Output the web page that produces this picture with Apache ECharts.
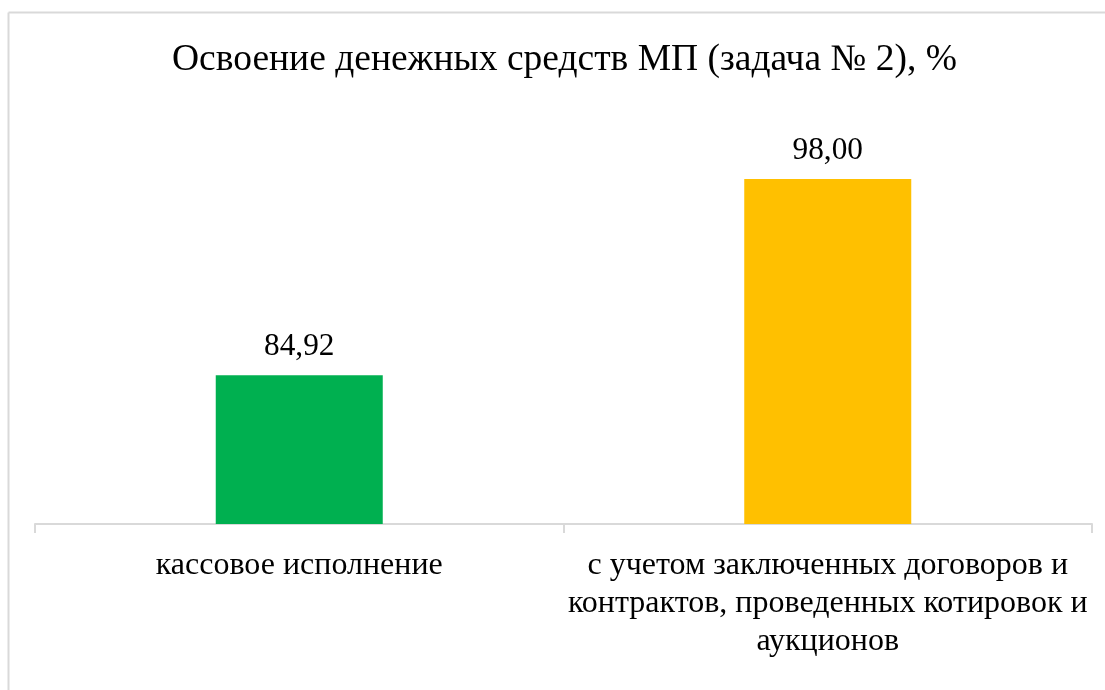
<!DOCTYPE html>
<html>
<head>
<meta charset="utf-8">
<script src="https://cdn.jsdelivr.net/npm/echarts@6/dist/echarts.min.js"></script>
<style>
html,body{margin:0;padding:0;background:#fff;}
#chart{width:1105px;height:690px;}
</style>
</head>
<body>
<div id="chart"></div>
<script>
const titleText = 'Освоение денежных средств МП (задача № 2), %';
const categories = ['кассовое исполнение', 'с учетом заключенных договоров и\nконтрактов, проведенных котировок и\nаукционов'];
const values = [84.92, 98.00];
const barColors = ['#00B050', '#FFC000'];

const chart = echarts.init(document.getElementById('chart'), null, {renderer: 'canvas'});
const serif = '"Liberation Serif", "Times New Roman", serif';
chart.setOption({
  animation: false,
  backgroundColor: '#ffffff',
  textStyle: {fontFamily: serif},
  graphic: [
    {type: 'line', shape: {x1: 8.5, y1: 12.5, x2: 1105, y2: 12.5}, style: {stroke: '#d9d9d9', lineWidth: 2}},
    {type: 'line', shape: {x1: 8.5, y1: 12.5, x2: 8.5, y2: 690}, style: {stroke: '#d9d9d9', lineWidth: 2}}
  ],
  title: {
    text: titleText,
    left: 172,
    top: 41,
    padding: 0,
    textStyle: {fontFamily: serif, fontSize: 37.5, fontWeight: 'normal', color: '#000'}
  },
  grid: {left: 35, right: 13, top: 149, bottom: 166, containLabel: false},
  xAxis: {
    type: 'category',
    data: categories,
    axisLine: {show: true, lineStyle: {color: '#d9d9d9', width: 2}},
    axisTick: {show: true, length: 9, lineStyle: {color: '#d9d9d9', width: 2}},
    axisLabel: {
      interval: 0,
      margin: 23,
      fontFamily: serif,
      fontSize: 32,
      lineHeight: 38,
      color: '#000',
      align: 'center'
    }
  },
  yAxis: {
    type: 'value',
    min: 75,
    max: 100,
    show: false,
    splitLine: {show: false}
  },
  series: [{
    type: 'bar',
    barWidth: '31.6%',
    data: values.map((v, i) => ({value: v, itemStyle: {color: barColors[i]}})),
    label: {
      show: true,
      position: 'top',
      distance: 13,
      fontFamily: serif,
      fontSize: 31.3,
      color: '#000',
      formatter: p => p.value.toFixed(2).replace('.', ',')
    }
  }]
});
</script>
</body>
</html>
